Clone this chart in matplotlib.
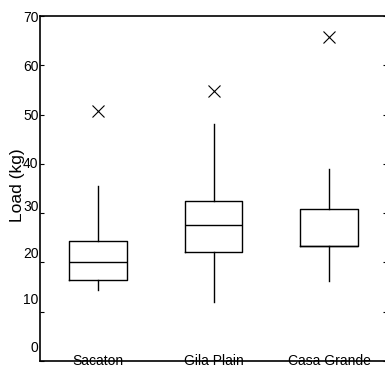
import matplotlib
matplotlib.use("Agg")
import matplotlib.pyplot as plt
from matplotlib.transforms import ScaledTranslation

plt.rcParams['font.family'] = ['Liberation Sans', 'DejaVu Sans']

sites = ["Sacaton", "Gila Plain", "Casa Grande"]
whisker_low = [14.5, 12.0, 16.2]
q1 = [16.4, 22.1, 23.3]
medians = [20.0, 27.6, 23.3]
q3 = [24.3, 32.5, 30.8]
whisker_high = [35.5, 48.1, 39.0]
outliers = [[50.8], [54.8], [65.8]]
yticks = [0, 10, 20, 30, 40, 50, 60, 70]
# the original labels drift upward near the bottom of the axis (pixels)
label_shift = [14, 13, 10, 8, 1, 0, 0, 0]

stats = []
for i, name in enumerate(sites):
    stats.append({
        "label": name,
        "whislo": whisker_low[i],
        "q1": q1[i],
        "med": medians[i],
        "q3": q3[i],
        "whishi": whisker_high[i],
        "fliers": outliers[i],
    })

fig = plt.figure(figsize=(3.85, 3.66), dpi=100)
ax = fig.add_axes([40 / 385, 5 / 366, 347 / 385, 345 / 366])

line = dict(color="black", linewidth=1.0)
ax.bxp(stats, positions=[1, 2, 3], widths=0.5, showcaps=False,
       boxprops=line, whiskerprops=line, medianprops=line,
       flierprops=dict(marker="x", markersize=8, markeredgecolor="black",
                       markeredgewidth=0.8, linestyle="none"))

ax.set_xlim(0.5, 3.5)
ax.set_ylim(0, 70)
ax.set_yticks(yticks)
ax.set_ylabel("Load (kg)", fontsize=12.5)
ax.yaxis.set_label_coords(-0.043, 0.51)

for side in ["left", "top", "bottom", "right"]:
    ax.spines[side].set_linewidth(1.2)

ax.tick_params(axis="y", direction="in", length=3, width=0.8, pad=1,
               labelsize=10, right=True)
ax.tick_params(axis="x", length=0, pad=-5, labelsize=10)

for lab, dy in zip(ax.get_yticklabels(), label_shift):
    lab.set_transform(lab.get_transform() + ScaledTranslation(0, dy / 100, fig.dpi_scale_trans))

fig.savefig("out.png", dpi=100)
